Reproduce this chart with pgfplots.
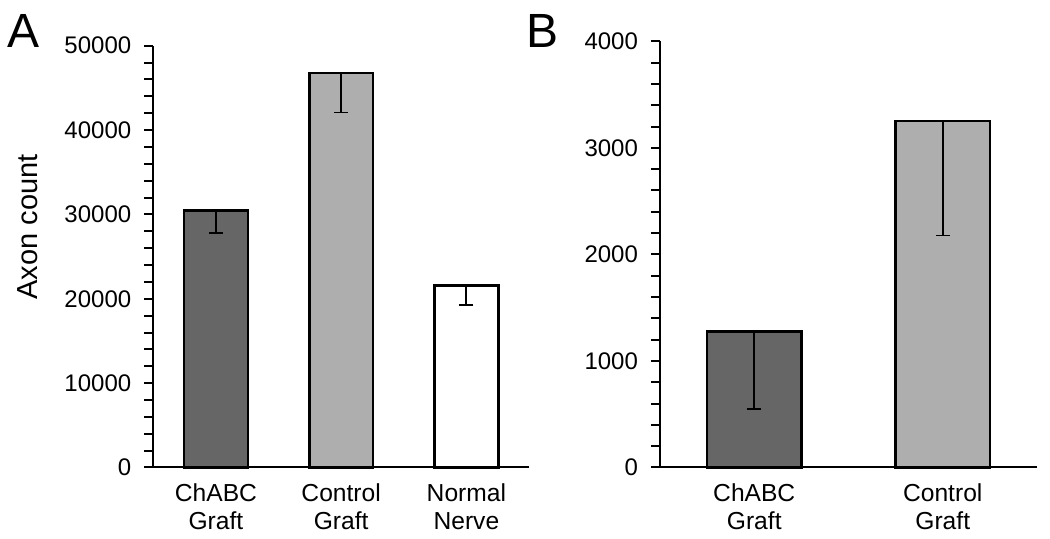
\documentclass[border=0pt]{standalone}
\usepackage{pgfplots}
\pgfplotsset{compat=1.18}
\usepackage{fontspec}
\setmainfont{Liberation Sans}
\definecolor{darkbar}{HTML}{666666}
\definecolor{lightbar}{HTML}{AEAEAE}
\begin{document}
\begin{tikzpicture}
\useasboundingbox (0pt,0pt) rectangle (525pt,269.5pt);
\pgfplotsset{
 mystyle/.style={
  scale only axis, anchor=south west,
  axis x line=bottom, axis y line=left,
  axis line style={-, line width=1pt, black},
  ybar, bar shift=0pt,
  tick align=outside, major tick length=4.5pt, minor tick length=4.5pt,
  y tick style={line width=1pt, black},
  x tick style={draw=none},
  ymin=0,
  scaled y ticks=false,
  /pgf/number format/1000 sep={},
  /pgf/number format/assume math mode=true,
  yticklabel style={font=\fontsize{12}{14}\selectfont, xshift=-3pt},
  xticklabel style={font=\fontsize{12.3}{14}\selectfont, align=center},
  clip=false,
  error bars/y dir=minus, error bars/y explicit,
  error bars/error bar style={line width=0.9pt, black},
  error bars/error mark=-,
  error bars/error mark options={rotate=90, line width=0.9pt, black, mark size=3.5pt},
 },
 barA/.style={draw=black, line width=1.3pt, fill=#1},
}
\begin{axis}[mystyle, at={(76.65pt,35.75pt)}, width=187.85pt, height=210.9pt,
  xmin=-0.5, xmax=2.5, ymax=50000, bar width=0.51,
  xtick={0,1,2}, xticklabels={ChABC\\Graft, Control\\Graft, Normal\\Nerve},
  ytick={0,10000,20000,30000,40000,50000}, minor y tick num=4]
\addplot[barA=darkbar] coordinates {(0,30480) -= (0,2650)};
\addplot[barA=lightbar] coordinates {(1,46780) -= (0,4690)};
\addplot[barA=white] coordinates {(2,21600) -= (0,2370)};
\end{axis}
\begin{axis}[mystyle, at={(330pt,35.75pt)}, width=188.5pt, height=213.1pt,
  xmin=-0.5, xmax=1.5, ymax=4000, bar width=0.5,
  xtick={0,1}, xticklabels={ChABC\\Graft, Control\\Graft},
  ytick={0,1000,2000,3000,4000}, minor y tick num=4]
\addplot[barA=darkbar] coordinates {(0,1274) -= (0,726)};
\addplot[barA=lightbar] coordinates {(1,3252) -= (0,1075)};
\end{axis}
\node[rotate=90, font=\fontsize{14.5}{16}\selectfont, inner sep=0pt] at (13.8pt,156pt) {Axon count};
\node[anchor=base west, font=\fontsize{24}{26}\selectfont, inner sep=0pt] at (3.5pt,245.5pt) {A};
\node[anchor=base west, font=\fontsize{24}{26}\selectfont, inner sep=0pt] at (263pt,245.5pt) {B};
\end{tikzpicture}
\end{document}
